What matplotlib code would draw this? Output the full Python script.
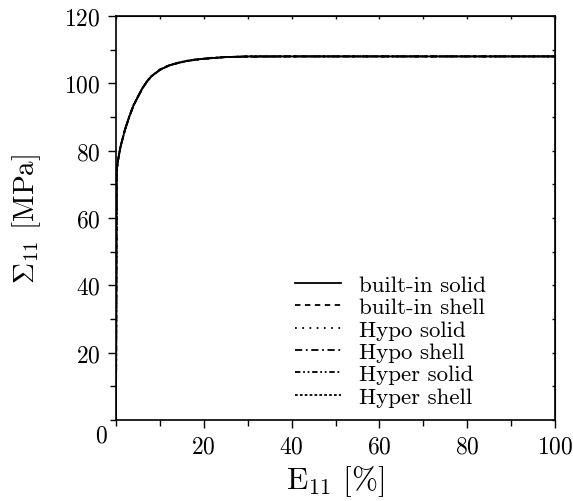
import matplotlib
matplotlib.use("Agg")
import matplotlib.pyplot as plt
from matplotlib.ticker import MultipleLocator

plt.rcParams["font.family"] = ["cmr10", "DejaVu Serif"]
plt.rcParams["mathtext.fontset"] = "cm"
plt.rcParams["axes.formatter.use_mathtext"] = True

# Strain E11 [%] and stress Sigma11 [MPa] for each model
strain = [0, 0.15, 0.5, 1, 2, 3, 4, 5, 6, 7, 8, 10, 12, 14, 16, 18, 20, 22, 25, 30, 40, 60, 80, 100]
builtin_solid = [0, 74, 77.5, 81, 86, 90, 93.5, 96, 98.5, 100.5, 102, 104, 105.3, 106, 106.6, 107, 107.3, 107.5, 107.8, 108, 108, 108, 108, 108]
builtin_shell = [0, 74, 77.4, 80.9, 86, 90, 93.4, 96, 98.4, 100.4, 102, 104, 105.2, 106, 106.6, 107, 107.3, 107.5, 107.8, 107.9, 108, 108, 108, 108]
hypo_solid = [0, 74, 77.5, 81, 86.1, 90.1, 93.5, 96.1, 98.5, 100.5, 102.1, 104.1, 105.3, 106.1, 106.6, 107, 107.3, 107.5, 107.8, 108, 108, 108, 108, 108]
hypo_shell = [0, 74, 77.4, 81, 86, 90, 93.4, 96, 98.5, 100.4, 102, 104, 105.3, 106, 106.6, 107, 107.3, 107.5, 107.8, 107.9, 108, 108, 108, 108]
hyper_solid = [0, 74, 77.5, 81.1, 86.1, 90.1, 93.6, 96.1, 98.6, 100.5, 102.1, 104.1, 105.3, 106.1, 106.7, 107.1, 107.3, 107.6, 107.8, 108, 108, 108, 108, 108]
hyper_shell = [0, 74, 77.5, 81, 86, 90, 93.5, 96, 98.5, 100.5, 102, 104, 105.3, 106, 106.6, 107, 107.3, 107.5, 107.8, 108, 108, 108, 108, 108]

labels = ["built-in solid", "built-in shell", "Hypo solid", "Hypo shell", "Hyper solid", "Hyper shell"]
series = [builtin_solid, builtin_shell, hypo_solid, hypo_shell, hyper_solid, hyper_shell]
styles = ["-", (0, (3, 2.5)), (0, (1, 3)), (0, (4, 2, 1, 2)), (0, (3, 1.5, 1, 1.5, 1, 1.5)), (0, (1.5, 1.2))]

fig = plt.figure(figsize=(5.73, 5.02), dpi=100)
ax = fig.add_axes([116 / 573, 1 - 421 / 502, 439 / 573, 404 / 502])

for y, lab, ls in zip(series, labels, styles):
    ax.plot(strain, y, color="black", lw=1.3, linestyle=ls, label=lab)

ax.set_xlim(0, 100)
ax.set_ylim(0, 120)
ax.xaxis.set_minor_locator(MultipleLocator(10))
ax.yaxis.set_minor_locator(MultipleLocator(10))
ax.set_xticks([20, 40, 60, 80, 100])
ax.set_yticks([20, 40, 60, 80, 100, 120])
ax.tick_params(which="major", direction="out", length=6, width=1, labelsize=17, pad=5)
ax.tick_params(which="minor", direction="out", length=4, width=1)
ax.text(101 / 573, 1 - 436 / 502, "0", transform=fig.transFigure, ha="center", va="center", fontsize=17)
for s in ax.spines.values():
    s.set_linewidth(1.2)

# inward ticks on the top and right spines
top = ax.secondary_xaxis("top")
top.xaxis.set_major_locator(MultipleLocator(20))
top.xaxis.set_minor_locator(MultipleLocator(10))
top.tick_params(which="both", direction="in", length=2.5, width=1, labeltop=False)
right = ax.secondary_yaxis("right")
right.yaxis.set_major_locator(MultipleLocator(20))
right.yaxis.set_minor_locator(MultipleLocator(10))
right.tick_params(which="both", direction="in", length=2.5, width=1, labelright=False)

ax.set_xlabel(r"E$_{11}$ [%]", fontsize=22.5, labelpad=4)
ax.set_ylabel(r"$\Sigma_{11}$ [MPa]", fontsize=21, labelpad=15)

leg = ax.legend(loc="upper left", frameon=False, fontsize=16.5, handlelength=2.0,
                handletextpad=0.8, labelspacing=0.1, borderpad=0, borderaxespad=0,
                bbox_to_anchor=(295 / 573, 1 - 276 / 502), bbox_transform=fig.transFigure)

fig.savefig("out.png", dpi=100)
